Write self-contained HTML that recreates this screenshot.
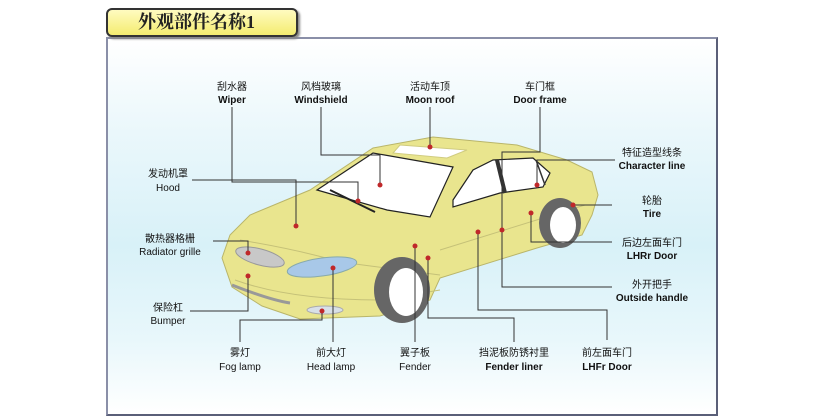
<!DOCTYPE html>
<html><head><meta charset="utf-8"><style>
html,body{margin:0;padding:0;background:#fff;}
body{width:831px;height:418px;position:relative;overflow:hidden;font-family:"Liberation Sans","Noto Sans CJK SC",sans-serif;}
.title{position:absolute;left:106px;top:8px;width:188px;height:25px;border:2px solid #333;border-radius:6px;background:linear-gradient(#fffbc0,#f4ec70);box-shadow:2px 2px 2px #888;font-family:"Liberation Serif","Noto Serif CJK SC",serif;font-size:18px;font-weight:bold;line-height:25px;padding-left:30px;box-sizing:content-box;width:158px;color:#222;}
.frame{position:absolute;left:106px;top:37px;width:608px;height:375px;border:2px solid #5a5f78;border-top-color:#8a8fa8;border-left-color:#8a8fa8;background:linear-gradient(#ffffff 0%,#eaf7fb 25%,#d8f1f8 55%,#e8f7fb 80%,#ffffff 100%);}
svg{position:absolute;left:0;top:0;}
</style></head><body>
<div class="frame"></div>
<div class="title">外观部件名称1</div>
<svg width="831" height="418" viewBox="0 0 831 418">
<g font-size="10" text-anchor="middle" fill="#111">
<!-- car -->
<polygon points="222,258 230,235 250,215 310,190 373,148 433,137 517,145 567,160 592,172 598,195 592,215 582,235 537,248 440,278 430,300 380,316 300,319 262,306 232,287" fill="#e9e58e" stroke="#b9b56a" stroke-width="1"/>
<path d="M240,240 Q300,250 340,262 L440,275" fill="none" stroke="#c5c178" stroke-width="1"/>
<path d="M235,280 Q290,300 380,300 L440,290" fill="none" stroke="#c5c178"/>
<path d="M440,250 L585,205" fill="none" stroke="#c5c178"/>
<polygon points="317,190 373,153 453,167 430,217 387,210" fill="#fff" stroke="#222" stroke-width="1.2"/>
<polygon points="400,145 467,150 447,158 393,153" fill="#fff" stroke="#d0cc80"/>
<polygon points="453,200 473,170 493,160 533,158 550,173 543,187 500,193 453,207" fill="#fff" stroke="#222" stroke-width="1.2"/>
<line x1="497" y1="160" x2="505" y2="193" stroke="#333" stroke-width="4"/>
<line x1="536" y1="160" x2="545" y2="185" stroke="#333" stroke-width="1.5"/>
<line x1="330" y1="190" x2="375" y2="212" stroke="#222" stroke-width="2"/>
<ellipse cx="260" cy="257" rx="25" ry="8" fill="#c8c8c8" stroke="#999" transform="rotate(15 260 257)"/>
<ellipse cx="322" cy="267" rx="35" ry="9" fill="#a8c8e8" stroke="#8aa" transform="rotate(-8 322 267)"/>
<ellipse cx="325" cy="310" rx="18" ry="4" fill="#d8e0e8" stroke="#aaa"/>
<path d="M232,285 Q270,300 290,303" stroke="#999" stroke-width="3" fill="none"/>
<ellipse cx="402" cy="290" rx="28" ry="33" fill="#666"/>
<ellipse cx="406" cy="292" rx="17" ry="24" fill="#fff"/>
<ellipse cx="560" cy="223" rx="21" ry="25" fill="#666"/>
<ellipse cx="563" cy="225" rx="13" ry="18" fill="#fff"/>
<!-- connectors -->
<g fill="none" stroke="#333" stroke-width="1">
<polyline points="232,107 232,182 358,182 358,201"/>
<polyline points="321,107 321,155 380,155 380,185"/>
<polyline points="430,107 430,147"/>
<polyline points="540,107 540,152 502,152 502,240 502,287 612,287"/>
<polyline points="615,160 537,160 537,185"/>
<polyline points="573,205 612,205"/>
<polyline points="531,213 531,242 612,242"/>
<polyline points="478,232 478,310 607,310 607,340"/>
<polyline points="428,258 428,318 514,318 514,342"/>
<polyline points="415,246 415,342"/>
<polyline points="333,268 333,342"/>
<polyline points="322,311 322,320 240,320 240,342"/>
<polyline points="248,276 248,311 190,311"/>
<polyline points="248,253 248,241 213,241"/>
<polyline points="296,226 296,180 192,180"/>
</g>
<g fill="#c0282a">
<circle cx="358" cy="201" r="2.5"/><circle cx="380" cy="185" r="2.5"/><circle cx="430" cy="147" r="2.5"/>
<circle cx="502" cy="230" r="2.5"/><circle cx="537" cy="185" r="2.5"/><circle cx="573" cy="205" r="2.5"/>
<circle cx="531" cy="213" r="2.5"/><circle cx="478" cy="232" r="2.5"/><circle cx="428" cy="258" r="2.5"/>
<circle cx="415" cy="246" r="2.5"/><circle cx="333" cy="268" r="2.5"/><circle cx="322" cy="311" r="2.5"/>
<circle cx="248" cy="276" r="2.5"/><circle cx="248" cy="253" r="2.5"/><circle cx="296" cy="226" r="2.5"/>
</g>
<!-- labels -->
<text x="232" y="90">刮水器</text><text x="232" y="103" font-weight="bold">Wiper</text>
<text x="321" y="90">风档玻璃</text><text x="321" y="103" font-weight="bold">Windshield</text>
<text x="430" y="90">活动车顶</text><text x="430" y="103" font-weight="bold">Moon roof</text>
<text x="540" y="90">车门框</text><text x="540" y="103" font-weight="bold">Door frame</text>
<text x="652" y="156">特征造型线条</text><text x="652" y="169" font-weight="bold">Character line</text>
<text x="652" y="204">轮胎</text><text x="652" y="217" font-weight="bold">Tire</text>
<text x="652" y="246">后边左面车门</text><text x="652" y="259" font-weight="bold">LHRr Door</text>
<text x="652" y="288">外开把手</text><text x="652" y="301" font-weight="bold">Outside handle</text>
<text x="607" y="356">前左面车门</text><text x="607" y="370" font-weight="bold">LHFr Door</text>
<text x="514" y="356">挡泥板防锈衬里</text><text x="514" y="370" font-weight="bold">Fender liner</text>
<text x="415" y="356">翼子板</text><text x="415" y="370">Fender</text>
<text x="331" y="356">前大灯</text><text x="331" y="370">Head lamp</text>
<text x="240" y="356">雾灯</text><text x="240" y="370">Fog lamp</text>
<text x="168" y="311">保险杠</text><text x="168" y="324">Bumper</text>
<text x="170" y="242">散热器格栅</text><text x="170" y="255">Radiator grille</text>
<text x="168" y="177">发动机罩</text><text x="168" y="191">Hood</text>
</g>
</svg>
</body></html>
